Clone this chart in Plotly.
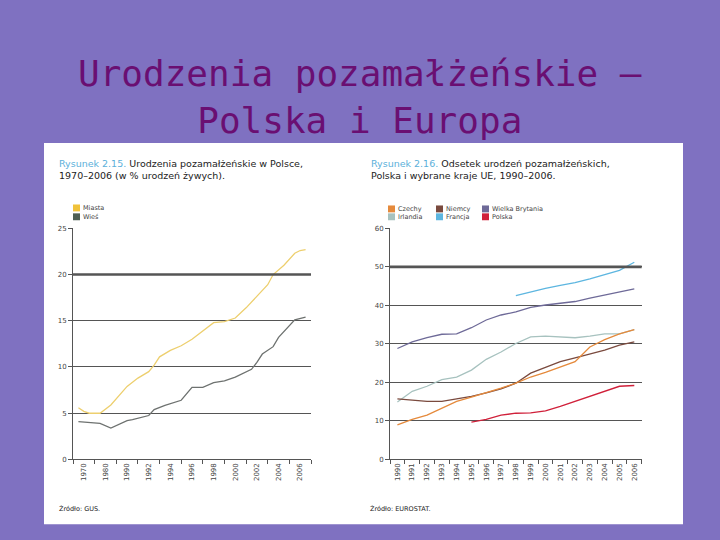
import plotly.graph_objects as go

W, H = 720, 540

# ---------------- data: left chart (Rysunek 2.15) ----------------
# x positions on the source's axis (first two slots are the compressed 1970s/1980s)
left_tick_pos = [1986, 1988, 1990, 1992, 1994, 1996, 1998, 2000, 2002, 2004, 2006]
left_tick_text = ["1970", "1980", "1990", "1992", "1994", "1996", "1998", "2000", "2002", "2004", "2006"]

miasta_x = [1985.5, 1986, 1986.5, 1987.5, 1988.5, 1990, 1991, 1992, 1992.5, 1993, 1994, 1995, 1996,
            1997, 1997.5, 1998, 1999, 2000, 2001, 2002, 2003, 2003.5, 2004.5, 2005.5, 2006, 2006.5]
miasta_y = [5.6, 5.2, 5.0, 5.0, 5.9, 7.9, 8.8, 9.5, 10.2, 11.1, 11.8, 12.3, 13.0,
            13.9, 14.3, 14.8, 14.9, 15.3, 16.4, 17.6, 18.9, 20.0, 21.0, 22.3, 22.6, 22.7]

wies_x = [1985.5, 1986.5, 1987.5, 1988.5, 1990, 1990.5, 1992, 1992.5, 1993.5, 1995, 1996, 1997,
          1998, 1999, 2000, 2001.5, 2002, 2002.5, 2003.5, 2004, 2005, 2005.5, 2006.5]
wies_y = [4.1, 4.0, 3.9, 3.4, 4.2, 4.3, 4.75, 5.4, 5.85, 6.4, 7.8, 7.8,
          8.3, 8.5, 8.9, 9.75, 10.5, 11.4, 12.2, 13.2, 14.4, 15.1, 15.4]

# ---------------- data: right chart (Rysunek 2.16) ----------------
years = list(range(1990, 2007))
czechy = [9.0, 10.4, 11.5, 13.4, 15.1, 16.2, 17.3, 18.5, 19.8, 21.4, 22.6, 24.1, 25.4, 29.2, 31.1, 32.6, 33.7]
niemcy = [15.7, 15.4, 15.1, 15.1, 15.7, 16.4, 17.3, 18.3, 19.8, 22.4, 23.9, 25.4, 26.4, 27.3, 28.4, 29.7, 30.5]
wb = [28.8, 30.5, 31.6, 32.5, 32.6, 34.2, 36.2, 37.5, 38.3, 39.5, 40.1, 40.5, 41.0, 41.9, 42.7, 43.5, 44.3]
irlandia = [14.9, 17.7, 19.0, 20.7, 21.4, 23.2, 26.0, 27.9, 30.1, 31.8, 32.0, 31.8, 31.6, 32.0, 32.6, 32.6, 33.7]
francja_years = list(range(1998, 2007))
francja = [42.5, 43.5, 44.4, 45.2, 45.9, 46.9, 48.0, 49.1, 51.2]
polska_years = list(range(1995, 2007))
polska = [9.7, 10.4, 11.5, 12.0, 12.1, 12.6, 13.8, 15.1, 16.6, 17.7, 19.0, 19.2]

right_tick_text = ["1990", "1991", "1992", "1993", "1994", "1995", "1996", "1997", "1998",
                   "1999", "2000", "2001", "2002", "2003", "2004", "2005", "2006"]

# ---------------- styling ----------------
BG = "#7F71C1"
TITLE_C = "#6A0F72"
GRID = "#555555"
TXT = "#444444"
BLUE = "#5BB0DA"
C_MIASTA = "#EDCF6E"
C_MIASTA_LEG = "#F0C23A"
C_WIES = "#6E7270"
C_WIES_LEG = "#4E5E52"
C_CZ, C_DE, C_UK = "#E58A3C", "#7A4A3E", "#6E6A98"
C_IE, C_FR, C_PL = "#A7C2BF", "#5DB6E0", "#D0203A"

def px_x(x):
    return x / W

def px_y(y):
    return 1 - y / H

fig = go.Figure()

fig.add_trace(go.Scatter(x=miasta_x, y=miasta_y, mode="lines", line=dict(color=C_MIASTA, width=1.3),
                         xaxis="x", yaxis="y", showlegend=False))
fig.add_trace(go.Scatter(x=wies_x, y=wies_y, mode="lines", line=dict(color=C_WIES, width=1.3),
                         xaxis="x", yaxis="y", showlegend=False))

for xs, ys, c in [(years, wb, C_UK), (francja_years, francja, C_FR), (years, irlandia, C_IE),
                  (years, niemcy, C_DE), (years, czechy, C_CZ), (polska_years, polska, C_PL)]:
    fig.add_trace(go.Scatter(x=xs, y=ys, mode="lines", line=dict(color=c, width=1.3),
                             xaxis="x2", yaxis="y2", showlegend=False))

ydom = [px_y(462.3), px_y(227.7)]

axis_common = dict(showline=True, linecolor=GRID, linewidth=1, zeroline=False,
                   tickfont=dict(family="DejaVu Sans", size=7, color=TXT))

fig.update_layout(
    width=W, height=H, margin=dict(l=0, r=0, t=0, b=0),
    paper_bgcolor=BG, plot_bgcolor="rgba(0,0,0,0)",
    showlegend=False,
    xaxis=dict(domain=[px_x(73), px_x(311)], range=[1985, 2007], anchor="y",
               tickmode="array", tickvals=left_tick_pos, ticktext=left_tick_text, ticks="",
               tickangle=-90, showgrid=False,
               minor=dict(tickmode="array", tickvals=list(range(1985, 2008, 2)), ticks="outside",
                          ticklen=4, tickcolor=GRID, showgrid=False),
               **axis_common),
    yaxis=dict(domain=ydom, range=[0, 25], anchor="x", tickmode="array", tickvals=[0, 5, 10, 15, 20, 25],
               showgrid=True, gridcolor=GRID, gridwidth=1, ticks="outside", ticklen=4, tickcolor=GRID,
               **axis_common),
    xaxis2=dict(domain=[px_x(390), px_x(641.7)], range=[1989.5, 2006.5], anchor="y2",
                tickmode="array", tickvals=years, ticktext=right_tick_text, ticks="",
                tickangle=-90, showgrid=False,
                minor=dict(tickmode="array", tickvals=[y - 0.5 for y in years] + [2006.5], ticks="outside",
                           ticklen=4, tickcolor=GRID, showgrid=False),
                **axis_common),
    yaxis2=dict(domain=ydom, range=[0, 60], anchor="x2", tickmode="array", tickvals=[0, 10, 20, 30, 40, 50, 60],
                showgrid=True, gridcolor=GRID, gridwidth=1, ticks="outside", ticklen=4, tickcolor=GRID,
                **axis_common),
)

shapes = [
    dict(type="rect", xref="paper", yref="paper", x0=px_x(44), x1=px_x(683), y0=px_y(528), y1=px_y(141),
         fillcolor="white", line=dict(width=0), layer="below"),
    dict(type="line", xref="x domain", yref="y", x0=0, x1=1, y0=20, y1=20, line=dict(color=GRID, width=2.6)),
    dict(type="line", xref="x2 domain", yref="y2", x0=0, x1=1, y0=50, y1=50, line=dict(color=GRID, width=2.6)),
]

annotations = [
    dict(text="Urodzenia pozamałżeńskie –<br>Polska i Europa", x=0.5, y=px_y(94), xref="paper", yref="paper",
         xanchor="center", yanchor="middle", showarrow=False,
         font=dict(family="DejaVu Sans Mono", size=36, color=TITLE_C)),
    dict(text=f"<span style='color:{BLUE}'>Rysunek 2.15.</span> Urodzenia pozamałżeńskie w Polsce,<br>1970–2006 (w % urodzeń żywych).",
         x=px_x(57), y=px_y(154), xref="paper", yref="paper", xanchor="left", yanchor="top", align="left",
         showarrow=False, font=dict(family="DejaVu Sans", size=9.5, color="#222222")),
    dict(text=f"<span style='color:{BLUE}'>Rysunek 2.16.</span> Odsetek urodzeń pozamałżeńskich,<br>Polska i wybrane kraje UE, 1990–2006.",
         x=px_x(369), y=px_y(154), xref="paper", yref="paper", xanchor="left", yanchor="top", align="left",
         showarrow=False, font=dict(family="DejaVu Sans", size=9.5, color="#222222")),
    dict(text="Źródło: GUS.", x=px_x(57), y=px_y(512), xref="paper", yref="paper", xanchor="left",
         yanchor="middle", showarrow=False, font=dict(family="DejaVu Sans", size=6.5, color="#222222")),
    dict(text="Źródło: EUROSTAT.", x=px_x(368), y=px_y(512), xref="paper", yref="paper", xanchor="left",
         yanchor="middle", showarrow=False, font=dict(family="DejaVu Sans", size=6.5, color="#222222")),
]

# legend swatches + labels (drawn as shapes/annotations to match the source layout)
legend_items = [
    ("Miasta", C_MIASTA_LEG, 73, 207), ("Wieś", C_WIES_LEG, 73, 216),
    ("Czechy", C_CZ, 388, 208), ("Irlandia", C_IE, 388, 216),
    ("Niemcy", C_DE, 436, 208), ("Francja", C_FR, 436, 216),
    ("Wielka Brytania", C_UK, 482, 208), ("Polska", C_PL, 482, 216),
]
for label, col, lx, ly in legend_items:
    shapes.append(dict(type="rect", xref="paper", yref="paper", x0=px_x(lx), x1=px_x(lx + 7),
                       y0=px_y(ly + 3.5), y1=px_y(ly - 3.5), fillcolor=col, line=dict(width=0)))
    annotations.append(dict(text=label, x=px_x(lx + 8), y=px_y(ly), xref="paper", yref="paper",
                            xanchor="left", yanchor="middle", showarrow=False,
                            font=dict(family="DejaVu Sans", size=6.5, color=TXT)))

fig.update_layout(shapes=shapes, annotations=annotations)

# remove the browser's default body margin so the 720x540 figure fills the window exactly
fig.write_html("out.html", config={"displayModeBar": False},
               post_script="document.body.style.margin='0';")
